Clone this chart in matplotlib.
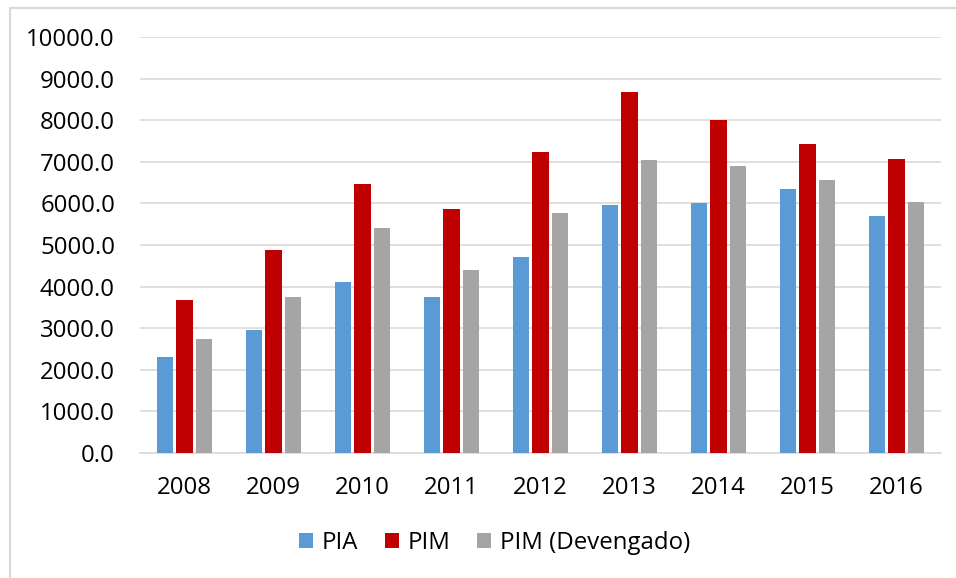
import numpy as np
import matplotlib.pyplot as plt
from matplotlib.patches import Rectangle

years = ['2008', '2009', '2010', '2011', '2012', '2013', '2014', '2015', '2016']
pia = [2310, 2950, 4120, 3750, 4700, 5960, 6000, 6360, 5690]
pim = [3670, 4880, 6470, 5860, 7240, 8680, 8020, 7430, 7070]
pim_dev = [2740, 3750, 5400, 4410, 5760, 7040, 6900, 6570, 6040]

series = [('PIA', pia, '#5B9BD5'),
          ('PIM', pim, '#C00000'),
          ('PIM (Devengado)', pim_dev, '#A5A5A5')]

plt.rcParams['font.family'] = ['Open Sans', 'DejaVu Sans']

W, H = 956, 578
fig = plt.figure(figsize=(W / 100, H / 100), dpi=100)
ax = fig.add_axes([140 / W, 1 - 452.7 / H, (941 - 140) / W, (452.7 - 37.3) / H])

x = np.arange(len(years))
pitch = 0.221
for i, (name, vals, col) in enumerate(series):
    ax.bar(x + (i - 1) * pitch, vals, width=0.18, color=col, label=name, zorder=3)

ax.set_xlim(-0.5, len(years) - 0.5)
ax.set_ylim(0, 10000)
ax.set_yticks(np.arange(0, 10001, 1000))
ax.set_yticklabels(['%.1f' % v for v in np.arange(0, 10001, 1000)])
ax.set_xticks(x)
ax.set_xticklabels(years)
ax.tick_params(axis='both', length=0, labelsize=17.3, colors='#000000')
ax.tick_params(axis='y', pad=18)
ax.tick_params(axis='x', pad=17)
ax.yaxis.grid(True, color='#D9D9D9', linewidth=1.2, zorder=0)
for s in ['top', 'right', 'left']:
    ax.spines[s].set_visible(False)
ax.spines['bottom'].set_color('#D9D9D9')
ax.spines['bottom'].set_linewidth(1.2)

fig.legend(loc='center', bbox_to_anchor=(494.5 / W, 1 - 543.3 / H), ncol=3,
           frameon=False, fontsize=17.3, handlelength=0.6, handleheight=0.6,
           handletextpad=0.35, columnspacing=1.1)

fig.patches.append(Rectangle((10 / W, -0.1), 1.2, 1 - 7.7 / H + 0.1,
                             transform=fig.transFigure, fill=False,
                             edgecolor='#D9D9D9', linewidth=1.5))

fig.savefig('out.png', dpi=100, facecolor='white')
